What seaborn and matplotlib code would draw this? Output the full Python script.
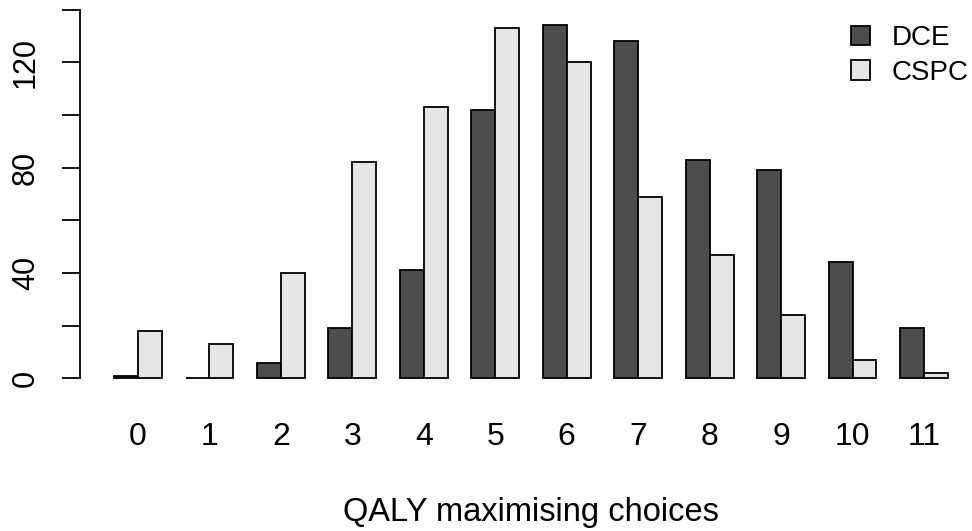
import pandas as pd
import seaborn as sns
import matplotlib
matplotlib.use("Agg")
import matplotlib.pyplot as plt

# === Data ===
choices = list(range(12))
dce_counts = [1, 0, 6, 19, 41, 102, 134, 128, 83, 79, 44, 19]
cspc_counts = [18, 13, 40, 82, 103, 133, 120, 69, 47, 24, 7, 2]
methods = ["DCE", "CSPC"]
y_ticks = [0, 20, 40, 60, 80, 100, 120, 140]
y_labels = ["0", "", "40", "", "80", "", "120", ""]

# long format for seaborn
df = pd.DataFrame({
    "choices": [str(c) for c in choices] * 2,
    "count": dce_counts + cspc_counts,
    "method": [methods[0]] * len(choices) + [methods[1]] * len(choices),
})

sns.set_style("white")
plt.rcParams["font.family"] = ["Liberation Sans", "DejaVu Sans"]
plt.rcParams["text.color"] = "black"
plt.rcParams["axes.labelcolor"] = "black"

W, H = 972, 531
fig = plt.figure(figsize=(W / 100, H / 100), dpi=100)
# axes placed in pixel terms
left, right, top, bottom = 80, 972, 7.0, 392.8
ax = fig.add_axes([left / W, 1 - bottom / H, (right - left) / W, (bottom - top) / H])

sns.barplot(data=df, x="choices", y="count", hue="method",
            palette=["#4d4d4d", "#e6e6e6"], edgecolor="black",
            linewidth=1.3, width=2 / 3, gap=0, ax=ax)

ax.set_xlim(-0.81, 11.67)
ax.set_ylim(-5.5, 141)

# axis styling, R barplot look
for s in ["top", "right", "bottom"]:
    ax.spines[s].set_visible(False)
ax.spines["left"].set_bounds(0, 140)
ax.spines["left"].set_linewidth(1.3)
ax.spines["left"].set_color("black")

ax.set_yticks(y_ticks)
ax.set_yticklabels(y_labels, rotation=90, va="center", fontsize=22)
ax.tick_params(axis="y", length=13, width=1.3, pad=15, colors="black", left=True)
ax.tick_params(axis="x", length=0, pad=21, labelsize=23, colors="black")

ax.set_ylabel("")
ax.set_xlabel("QALY maximising choices", fontsize=23.5, color="black")
ax.xaxis.set_label_coords((530.5 - left) / (right - left), (bottom - 513) / (bottom - top))
ax.xaxis.label.set_va("center")

# legend, top right
leg = ax.legend(loc="upper left", bbox_to_anchor=(851 / W, 1 - 25 / H),
                bbox_transform=fig.transFigure, frameon=False, fontsize=20,
                handlelength=0.7, handleheight=0.7, handletextpad=0.75,
                labelspacing=0.32, borderpad=0, borderaxespad=0)
for t in leg.get_texts():
    t.set_color("black")

fig.savefig("out.png", dpi=100)
